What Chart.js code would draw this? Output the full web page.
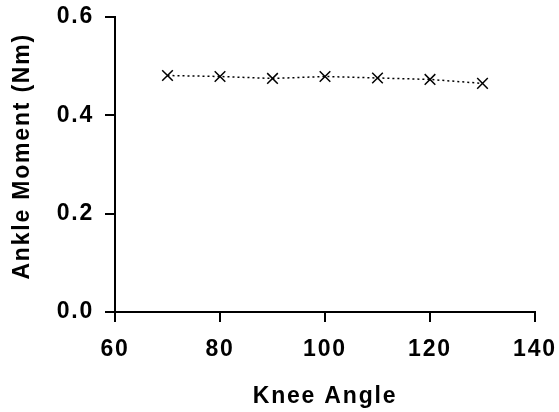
<!DOCTYPE html>
<html>
<head>
<meta charset="utf-8">
<script src="https://cdn.jsdelivr.net/npm/chart.js@4"></script>
<style>
html,body{margin:0;padding:0;background:#fff;}
#wrap{width:559px;height:412px;}
</style>
</head>
<body>
<div id="wrap"><canvas id="c" width="559" height="412"></canvas></div>
<script>
const kneeAngles = [70, 80, 90, 100, 110, 120, 130];
const ankleMoment = [0.481, 0.479, 0.475, 0.479, 0.476, 0.473, 0.465];
const xTicks = [60, 80, 100, 120, 140];
const yTicks = [0.0, 0.2, 0.4, 0.6];

const font = {family: '"Liberation Sans", Arial, sans-serif', size: 23, weight: 'bold'};
const spacing = '1.8px';

const letterSpacingPlugin = {
  id: 'letterSpacing',
  beforeUpdate(chart) { chart.ctx.letterSpacing = spacing; },
  beforeLayout(chart) { chart.ctx.letterSpacing = spacing; },
  beforeDraw(chart) { chart.ctx.letterSpacing = spacing; }
};

new Chart(document.getElementById('c'), {
  type: 'scatter',
  plugins: [letterSpacingPlugin],
  data: {
    datasets: [{
      data: kneeAngles.map((x, i) => ({x: x, y: ankleMoment[i]})),
      showLine: true,
      borderColor: '#000',
      borderWidth: 1.5,
      borderDash: [2, 3],
      pointStyle: 'crossRot',
      pointRadius: 7.5,
      pointBorderWidth: 1.5,
      pointBorderColor: '#000',
      pointBackgroundColor: '#000'
    }]
  },
  options: {
    responsive: false,
    animation: false,
    events: [],
    layout: {padding: {left: 0, right: 24, top: 17, bottom: 0}},
    plugins: {legend: {display: false}, tooltip: {enabled: false}},
    scales: {
      x: {
        type: 'linear',
        min: 60, max: 140,
        afterBuildTicks: ax => { ax.ticks = xTicks.map(v => ({value: v})); },
        afterFit: ax => { ax.height = 100; ax.paddingLeft = 0; ax.paddingRight = 0; },
        border: {display: true, color: '#000', width: 2},
        grid: {display: true, drawOnChartArea: false, drawTicks: true, tickLength: 10, color: '#000', lineWidth: 2},
        ticks: {color: '#000', font: font, padding: 14, maxRotation: 0, callback: v => String(v)},
        title: {display: true, text: 'Knee Angle', color: '#000', font: font, padding: {top: 4, bottom: 2}}
      },
      y: {
        type: 'linear',
        min: 0, max: 0.6,
        afterBuildTicks: ax => { ax.ticks = yTicks.map(v => ({value: v})); },
        afterFit: ax => { ax.width = 115; ax.paddingTop = 0; ax.paddingBottom = 0; },
        border: {display: true, color: '#000', width: 2},
        grid: {display: true, drawOnChartArea: false, drawTicks: true, tickLength: 10, color: '#000', lineWidth: 2},
        ticks: {color: '#000', font: font, padding: 11, callback: v => Number(v).toFixed(1)},
        title: {display: true, text: '  Ankle Moment (Nm)', color: '#000', font: font, padding: {top: 9, bottom: 4}}
      }
    }
  }
});
</script>
</body>
</html>
